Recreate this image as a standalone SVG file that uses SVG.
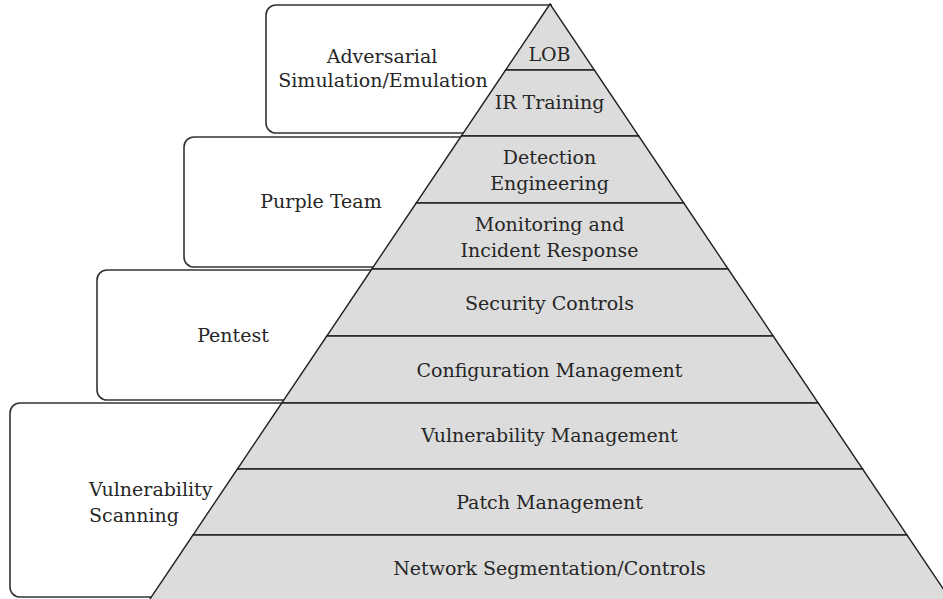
<svg xmlns="http://www.w3.org/2000/svg" width="943" height="599" viewBox="0 0 943 599">
<style>
.box{fill:#ffffff;stroke:#333333;stroke-width:1.6}
.layer{fill:#dcdcdc;stroke:#222222;stroke-width:1.4;stroke-linejoin:miter}
text{font-family:"DejaVu Serif","Liberation Serif",serif;font-size:19px;fill:#262626}
.c{text-anchor:middle}
</style>
<rect width="943" height="599" fill="#ffffff"/>
<g id="bands">
<g id="adversarial">
<path class="box" d="M 552 5 H 276 A 10 10 0 0 0 266 15 V 123 A 10 10 0 0 0 276 133 H 466"/>
<text class="c" x="382" y="62.5">Adversarial</text>
<text class="c" x="383" y="86.5">Simulation/Emulation</text>
</g>
<g id="purple-team">
<path class="box" d="M 463 137 H 194 A 10 10 0 0 0 184 147 V 257 A 10 10 0 0 0 194 267 H 376"/>
<text class="c" x="321" y="208">Purple Team</text>
</g>
<g id="pentest">
<path class="box" d="M 374 270 H 107 A 10 10 0 0 0 97 280 V 390 A 10 10 0 0 0 107 400 H 286"/>
<text class="c" x="233" y="342">Pentest</text>
</g>
<g id="vulnerability-scanning">
<path class="box" d="M 284 403 H 20 A 10 10 0 0 0 10 413 V 587 A 10 10 0 0 0 20 597 H 154"/>
<text x="89" y="496">Vulnerability</text>
<text x="89" y="522">Scanning</text>
</g>
</g>
<g id="pyramid">
<g id="lob">
<polygon class="layer" points="550,4 505.63,70 594.37,70"/>
<text class="c" x="549.5" y="61">LOB</text>
</g>
<g id="ir-training">
<polygon class="layer" points="505.63,70 594.37,70 638.74,136 461.26,136"/>
<text class="c" x="549.5" y="109">IR Training</text>
</g>
<g id="detection-engineering">
<polygon class="layer" points="461.26,136 638.74,136 683.79,203 416.21,203"/>
<text class="c" x="549.5" y="163.5">Detection</text>
<text class="c" x="549.5" y="189.5">Engineering</text>
</g>
<g id="monitoring">
<polygon class="layer" points="416.21,203 683.79,203 728.16,269 371.84,269"/>
<text class="c" x="549.5" y="231">Monitoring and</text>
<text class="c" x="549.5" y="257">Incident Response</text>
</g>
<g id="security-controls">
<polygon class="layer" points="371.84,269 728.16,269 773.2,336 326.8,336"/>
<text class="c" x="549.5" y="310">Security Controls</text>
</g>
<g id="configuration-management">
<polygon class="layer" points="326.8,336 773.2,336 818.25,403 281.75,403"/>
<text class="c" x="549.5" y="377.3">Configuration Management</text>
</g>
<g id="vulnerability-management">
<polygon class="layer" points="281.75,403 818.25,403 862.62,469 237.38,469"/>
<text class="c" x="549.5" y="442">Vulnerability Management</text>
</g>
<g id="patch-management">
<polygon class="layer" points="237.38,469 862.62,469 906.99,535 193.01,535"/>
<text class="c" x="549.5" y="508.5">Patch Management</text>
</g>
<g id="network-segmentation">
<polygon class="layer" points="193.01,535 906.99,535 952.04,602 147.96,602"/>
<text class="c" x="549.5" y="574.5">Network Segmentation/Controls</text>
</g>
</g>
</svg>
